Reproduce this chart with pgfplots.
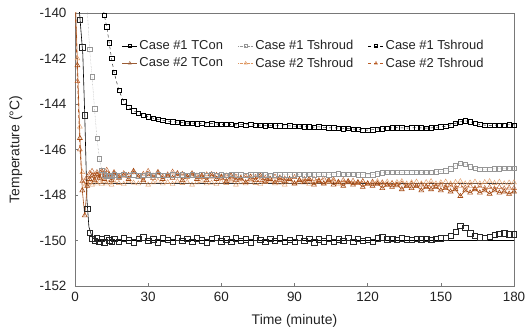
\documentclass[border=0pt]{standalone}
\usepackage{fontspec}
\setmainfont{Liberation Sans}
\usepackage{pgfplots}
\usepackage{pgfplotstable}
\pgfplotsset{compat=1.18}
\definecolor{axgray}{RGB}{120,120,120}
\definecolor{txt}{RGB}{35,35,35}
\definecolor{grsq}{RGB}{150,150,150}
\definecolor{brdark}{RGB}{165,75,20}
\definecolor{brlight}{RGB}{222,150,95}
\definecolor{brmid}{RGB}{185,90,35}
\pgfplotstableread{
t a b c d e f
0 -136.0 -125.0 -110.0 -139.0 -138.0 -139.5
1 -138.5 -128.0 -114.0 -142.3 -142.0 -143.0
2 -140.3 -131.0 -118.0 -145.5 -145.0 -146.0
3 -141.5 -134.0 -122.0 -147.8 -147.0 -147.4
4 -144.5 -137.0 -126.0 -148.9 -147.6 -147.4
5 -148.6 -139.8 -129.5 -147.6 -147.5 -147.2
6 -149.65 -141.6 -132.5 -147.3 -147.45 -147.05
7 -149.92 -142.8 -135.0 -147.15 -147.55 -146.95
8 -150.02 -144.2 -137.0 -147.35 -147.4 -147.15
9 -149.9 -145.5 -138.0 -147.1 -147.5 -147.0
10 -150.05 -146.4 -138.8 -147.25 -147.42 -147.2
11 -149.92 -146.9 -139.4 -146.95 -147.52 -147.05
12 -150.08 -147.1 -140.1 -147.3 -147.38 -147.15
13 -149.88 -147.15 -140.6 -147.2 -147.5 -146.9
14 -149.98 -147.12 -141.3 -147.1 -147.45 -147.1
15 -150.06 -147.18 -142.0 -147.35 -147.55 -147.2
16 -149.93 -147.1 -142.6 -147.05 -147.4 -147.0
18 -150.04 -147.16 -143.4 -147.25 -147.48 -147.18
20 -149.9 -147.08 -143.9 -147.15 -147.52 -147.05
22 -149.98 -147.14 -144.15 -147.3 -147.4 -147.12
24 -150.08 -147.1 -144.3 -146.95 -147.46 -147.0
26 -149.92 -147.15 -144.4 -147.2 -147.5 -147.2
28 -149.86 -147.12 -144.5 -147.35 -147.42 -147.08
30 -150.02 -147.1 -144.55 -147.1 -147.55 -146.95
32 -149.95 -147.13 -144.62 -147.25 -147.45 -147.15
34 -150.07 -147.1 -144.68 -147.0 -147.38 -147.05
36 -149.9 -147.12 -144.72 -147.3 -147.5 -147.2
38 -149.96 -147.14 -144.76 -147.15 -147.44 -147.1
40 -150.05 -147.1 -144.78 -147.25 -147.52 -146.98
42 -149.88 -147.12 -144.8 -147.05 -147.4 -147.15
44 -150.0 -147.1 -144.82 -147.35 -147.48 -147.08
46 -149.92 -147.13 -144.84 -147.2 -147.42 -147.2
48 -150.06 -147.11 -144.84 -147.1 -147.55 -147.05
50 -149.9 -147.12 -144.86 -147.3 -147.45 -147.15
52 -149.98 -147.1 -144.85 -147.15 -147.4 -147.22
54 -150.08 -147.13 -144.88 -147.35 -147.5 -147.1
56 -149.93 -147.1 -144.86 -147.1 -147.46 -147.2
58 -149.87 -147.12 -144.88 -147.3 -147.52 -147.12
60 -150.03 -147.1 -144.9 -147.2 -147.42 -147.25
62 -149.95 -147.12 -144.88 -147.4 -147.48 -147.15
64 -150.06 -147.09 -144.9 -147.15 -147.4 -147.3
66 -149.9 -147.11 -144.92 -147.35 -147.55 -147.2
68 -150.0 -147.1 -144.9 -147.25 -147.45 -147.3
70 -149.94 -147.12 -144.92 -147.45 -147.5 -147.18
72 -150.07 -147.1 -144.9 -147.2 -147.42 -147.32
74 -149.88 -147.09 -144.94 -147.35 -147.48 -147.22
76 -149.97 -147.11 -144.93 -147.15 -147.52 -147.35
78 -150.05 -147.1 -144.95 -147.4 -147.44 -147.25
80 -149.92 -147.12 -144.94 -147.3 -147.4 -147.3
82 -150.02 -147.1 -144.96 -147.45 -147.5 -147.2
84 -149.9 -147.09 -144.95 -147.25 -147.46 -147.35
86 -150.06 -147.11 -144.97 -147.4 -147.55 -147.28
88 -149.96 -147.1 -144.96 -147.3 -147.42 -147.3
90 -150.04 -147.1 -144.98 -147.5 -147.5 -147.22
92 -149.89 -147.09 -144.97 -147.35 -147.45 -147.35
94 -150.0 -147.1 -144.99 -147.45 -147.4 -147.3
96 -149.93 -147.08 -145.0 -147.3 -147.52 -147.38
98 -150.07 -147.1 -145.02 -147.55 -147.46 -147.3
100 -149.95 -147.09 -145.0 -147.4 -147.42 -147.35
102 -150.03 -147.08 -145.03 -147.5 -147.5 -147.28
104 -149.9 -147.1 -145.05 -147.35 -147.44 -147.4
106 -150.06 -147.08 -145.04 -147.55 -147.4 -147.32
108 -149.94 -147.07 -145.06 -147.45 -147.52 -147.42
110 -150.02 -147.08 -145.08 -147.6 -147.46 -147.35
112 -149.88 -147.09 -145.07 -147.4 -147.42 -147.45
114 -150.05 -147.08 -145.1 -147.55 -147.5 -147.38
116 -149.93 -147.1 -145.12 -147.45 -147.44 -147.48
118 -150.0 -147.1 -145.14 -147.65 -147.4 -147.4
120 -149.96 -147.12 -145.15 -147.5 -147.52 -147.5
122 -150.05 -147.1 -145.13 -147.6 -147.46 -147.42
124 -149.9 -147.06 -145.1 -147.5 -147.4 -147.52
126 -149.86 -147.02 -145.08 -147.7 -147.48 -147.45
128 -149.95 -147.0 -145.06 -147.55 -147.42 -147.55
130 -149.92 -146.99 -145.05 -147.65 -147.5 -147.48
132 -149.97 -147.0 -145.04 -147.55 -147.44 -147.58
134 -149.9 -147.01 -145.05 -147.75 -147.4 -147.5
136 -149.94 -147.0 -145.06 -147.6 -147.5 -147.6
138 -149.96 -146.99 -145.05 -147.7 -147.45 -147.52
140 -149.92 -147.0 -145.04 -147.6 -147.42 -147.6
142 -149.95 -147.01 -145.05 -147.8 -147.5 -147.55
144 -149.93 -147.0 -145.06 -147.65 -147.44 -147.62
146 -149.96 -146.99 -145.05 -147.75 -147.4 -147.55
148 -149.92 -146.98 -145.03 -147.65 -147.5 -147.6
150 -149.9 -146.96 -145.0 -147.8 -147.45 -147.55
152 -149.88 -146.93 -144.98 -147.7 -147.42 -147.62
154 -149.8 -146.85 -144.92 -147.85 -147.5 -147.58
156 -149.6 -146.72 -144.85 -147.75 -147.44 -147.65
158 -149.35 -146.6 -144.78 -148.05 -147.4 -147.6
160 -149.45 -146.65 -144.74 -147.8 -147.5 -147.68
162 -149.68 -146.75 -144.78 -147.9 -147.46 -147.6
164 -149.78 -146.82 -144.85 -147.75 -147.42 -147.7
166 -149.85 -146.86 -144.9 -147.9 -147.5 -147.62
168 -149.88 -146.87 -144.93 -147.8 -147.44 -147.7
170 -149.82 -146.86 -144.94 -147.95 -147.4 -147.65
172 -149.75 -146.85 -144.93 -147.8 -147.48 -147.72
174 -149.7 -146.84 -144.92 -147.9 -147.42 -147.65
176 -149.68 -146.83 -144.92 -147.85 -147.5 -147.72
178 -149.72 -146.82 -144.91 -147.95 -147.46 -147.68
180 -149.72 -146.82 -144.92 -147.85 -147.45 -147.7
}\datatable
\begin{document}
\begin{tikzpicture}
\useasboundingbox (-75bp,-44bp) rectangle (450bp,286bp);
\begin{axis}[
  at={(0,0)}, anchor=south west,
  scale only axis, width=439bp, height=273bp,
  xmin=0, xmax=180, ymin=-152, ymax=-140,
  xtick={0,30,60,90,120,150,180},
  ytick={-152,-150,-148,-146,-144,-142,-140},
  tick align=inside, tick pos=left,
  major tick length=3bp,
  axis line style={axgray},
  every tick/.style={axgray},
  /pgf/number format/assume math mode=true,
  tick label style={font=\fontsize{13.5}{16}\selectfont, text=txt},
  yticklabel style={xshift=-5bp},
  xticklabel style={yshift=-3bp},
  xlabel={Time (minute)}, ylabel={Temperature (°C)},
  every axis y label/.style={at={(axis description cs:-0.135,0.5)}, rotate=90, anchor=center, font=\fontsize{14}{16}\selectfont, text=txt},
  every axis x label/.style={at={(axis description cs:0.5,-0.128)}, anchor=center, font=\fontsize{14}{16}\selectfont, text=txt},
  legend style={draw=none, fill=none, at={(0.1,0.915)}, anchor=north west,
    font=\fontsize{13}{15}\selectfont, text=txt, row sep=2.5bp,
    /tikz/every even column/.append style={column sep=13bp}},
  legend columns=3,
  legend cell align=left,
  legend image code/.code={
    \draw[#1] (0bp,0bp) -- (15bp,0bp);
    \draw[#1, solid] plot coordinates {(7.5bp,0bp)};
  },
]
% legend entries
\addlegendimage{black, thin, solid, mark=square, mark size=1.6, mark options={fill=white, solid}}
\addlegendentry{Case \#1 TCon}
\addlegendimage{grsq, thin, densely dotted, mark=square, mark size=1.6, mark options={fill=white, solid}}
\addlegendentry{Case \#1 Tshroud}
\addlegendimage{black, thin, dashed, mark=square, mark size=1.6, mark options={fill=white, solid}}
\addlegendentry{Case \#1 Tshroud}
\addlegendimage{brdark!70!gray, thin, solid, mark=triangle, mark size=1.8, mark options={fill=white, solid}}
\addlegendentry{Case \#2 TCon}
\addlegendimage{brlight, thin, densely dotted, mark=triangle, mark size=1.8, mark options={fill=white, solid}}
\addlegendentry{Case \#2 Tshroud}
\addlegendimage{brmid, thin, dashed, mark=triangle, mark size=1.8, mark options={fill=white, solid}}
\addlegendentry{Case \#2 Tshroud}
% set point lines
\addplot[forget plot, black!80, thin] coordinates {(4.2,-147.5) (180,-147.5)};
\addplot[forget plot, black, semithick] coordinates {(1.5,-139.5) (3.2,-141.8) (4,-144.5) (4.9,-148.2) (5.7,-149.4) (7,-149.85) (9,-150) (180,-150)};
% Case 2
\addplot[forget plot, brlight, thin, densely dotted, mark=triangle, mark size=2.8, mark options={fill=white, solid}] table[x=t, y=e] {\datatable};
\addplot[forget plot, brmid, semithick, dashed, mark=triangle, mark size=2.8, mark options={fill=white, solid, thin}] table[x=t, y=f] {\datatable};
\addplot[forget plot, brdark, semithick, solid, mark=triangle, mark size=2.8, mark options={fill=brdark!25, solid}] table[x=t, y=d] {\datatable};
% Case 1
\addplot[forget plot, grsq, thin, densely dotted, mark=square, mark size=2.2, mark options={fill=white, solid}] table[x=t, y=b] {\datatable};
\addplot[forget plot, black, thin, dashed, mark=square, mark size=2.2, mark options={fill=white, solid}] table[x=t, y=c] {\datatable};
\addplot[forget plot, black!85, only marks, mark=square, mark size=2.7, mark options={fill=white, solid}] table[x=t, y=a] {\datatable};
\end{axis}
\end{tikzpicture}
\end{document}
